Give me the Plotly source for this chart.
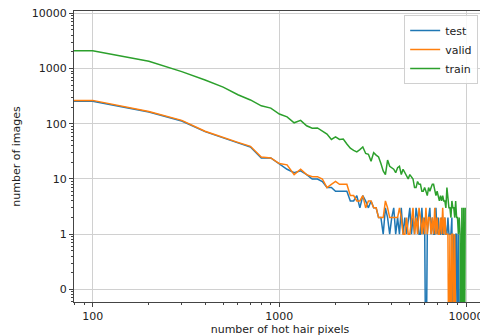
import plotly.graph_objects as go

# bin start (number of hot hair pixels), step 100
pixels = list(range(0, 10000, 100))

test = [250, 255, 163, 112, 72, 55, 45, 38, 24, 24,
        19, 15, 13, 14, 12, 10, 10, 9, 7, 7,
        6, 6, 6, 6, 4, 4, 5, 3, 5, 4,
        3, 4, 3, 3, 2, 2, 1, 3, 2, 1,
        2, 3, 1, 2, 1, 3, 1, 2, 1, 2,
        3, 1, 2, 1, 3, 2, 1, 1, 3, 1,
        2, 0, 1, 2, 3, 1, 2, 1, 1, 3,
        1, 2, 1, 1, 2, 1, 1, 2, 1, 1,
        2, 1, 1, 1, 2, 0, 1, 0, 1, 1,
        0, 1, 0, 0, 0, 0, 0, 0, 0, 0]

valid = [260, 265, 166, 115, 73, 56, 46, 39, 25, 24,
         19, 18, 12, 15, 12, 11, 11, 10, 7, 8,
         9, 8, 8, 8, 5, 5, 4, 4, 5, 3,
         4, 4, 3, 3, 2, 2, 2, 4, 3, 2,
         2, 2, 2, 2, 3, 2, 1, 1, 2, 1,
         1, 2, 3, 1, 2, 1, 3, 2, 1, 2,
         1, 3, 1, 2, 2, 1, 2, 1, 3, 1,
         2, 1, 1, 2, 1, 3, 1, 2, 1, 1,
         1, 0, 1, 0, 1, 1, 0, 1, 0, 0,
         0, 0, 0, 0, 0, 0, 0, 0, 0, 0]

train = [2100, 2100, 1350, 880, 620, 460, 335, 270, 211, 192,
         150, 133, 104, 115, 92, 83, 84, 74, 65, 52,
         58, 52, 53, 43, 36, 33, 31, 34, 38, 29,
         28, 21, 30, 27, 25, 19, 14, 12, 22, 17,
         16, 15, 13, 16, 17, 12, 15, 13, 11, 10,
         12, 11, 10, 7, 7, 9, 8, 8, 6, 6,
         7, 6, 5, 7, 6, 7, 8, 8, 6, 5,
         6, 5, 4, 5, 4, 5, 4, 4, 3, 7,
         5, 3, 3, 2, 4, 3, 3, 2, 4, 2,
         2, 1, 2, 1, 0, 3, 0, 3, 0, 3]

series = [("test", test, "#1f77b4"), ("valid", valid, "#ff7f0e"), ("train", train, "#2ca02c")]

# log scales cannot hold 0: like matplotlib's clipping, push zeros far outside the view
def px(v):
    return [x if x > 0 else 1e-3 for x in v]

def py(v):
    return [y if y > 0 else 1e-3 for y in v]

fig = go.Figure()
for name, vals, color in series:
    fig.add_trace(go.Scatter(x=px(pixels), y=py(vals), mode="lines", name=name,
                             line=dict(color=color, width=1.5)))

x_major = [100, 1000, 10000]
x_minor = [80, 90] + [k * 10 ** d for d in (2, 3) for k in range(2, 10)]
y_major = [0.1, 1, 10, 100, 1000, 10000]
y_labels = ["0", "1", "10", "100", "1000", "10000"]
y_minor = [0.06, 0.07, 0.08, 0.09] + [k * 10 ** d for d in (-1, 0, 1, 2, 3) for k in range(2, 10)]

font = dict(family="DejaVu Sans", size=11, color="#222")
# the page body has an 8px margin, so the figure is 8px smaller than the window
fig.update_layout(
    width=480, height=328,
    margin=dict(l=66, r=2, t=3, b=34, autoexpand=False),
    paper_bgcolor="white", plot_bgcolor="white",
    font=font,
    showlegend=True,
    legend=dict(x=0.981, y=0.986, xanchor="right", yanchor="top",
                bgcolor="rgba(255,255,255,0.85)", bordercolor="#d0d0d0", borderwidth=1,
                font=dict(family="DejaVu Sans", size=11, color="#222"),
                tracegroupgap=0, itemwidth=30),
)
fig.update_xaxes(type="log", range=[1.900, 4.107], automargin=False,
                 tickmode="array", tickvals=x_major, ticktext=[str(v) for v in x_major],
                 ticklabeloverflow="allow",
                 showgrid=True, gridcolor="#d0d0d0", gridwidth=1,
                 showline=True, linecolor="#444", linewidth=1, mirror=True,
                 ticks="outside", ticklen=4, tickcolor="#444",
                 minor=dict(tickvals=x_minor, ticks="outside", ticklen=2, tickcolor="#444", showgrid=False),
                 zeroline=False,
                 title=dict(text="number of hot hair pixels", standoff=3, font=font))
fig.update_yaxes(type="log", range=[-1.228, 4.042], automargin=False,
                 tickmode="array", tickvals=y_major, ticktext=y_labels,
                 ticklabeloverflow="allow",
                 showgrid=True, gridcolor="#d0d0d0", gridwidth=1,
                 showline=True, linecolor="#444", linewidth=1, mirror=True,
                 ticks="outside", ticklen=4, tickcolor="#444",
                 minor=dict(tickvals=y_minor, ticks="outside", ticklen=2, tickcolor="#444", showgrid=False),
                 zeroline=False,
                 title=dict(text="number of images", standoff=8, font=font))

fig.write_html("out.html")
